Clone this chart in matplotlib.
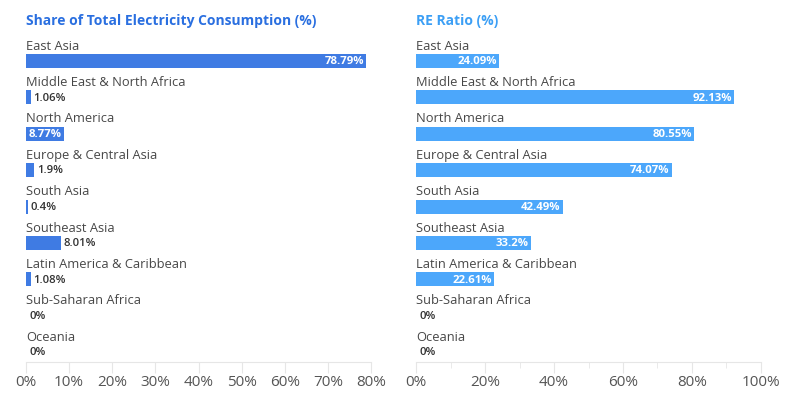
import numpy as np
import matplotlib
matplotlib.use('Agg')
import matplotlib.pyplot as plt
from matplotlib.ticker import FuncFormatter, MultipleLocator

# ── data ──────────────────────────────────────────────────────────────────────
REGIONS = [
    "East Asia",
    "Middle East & North Africa",
    "North America",
    "Europe & Central Asia",
    "South Asia",
    "Southeast Asia",
    "Latin America & Caribbean",
    "Sub-Saharan Africa",
    "Oceania",
]
SHARE = [78.79, 1.06, 8.77, 1.9, 0.4, 8.01, 1.08, 0, 0]
SHARE_LABELS = ["78.79%", "1.06%", "8.77%", "1.9%", "0.4%", "8.01%", "1.08%", "0%", "0%"]
RE_RATIO = [24.09, 92.13, 80.55, 74.07, 42.49, 33.2, 22.61, 0, 0]
RE_LABELS = ["24.09%", "92.13%", "80.55%", "74.07%", "42.49%", "33.2%", "22.61%", "0%", "0%"]

FONT = "Open Sans"
plt.rcParams['font.family'] = [FONT, 'DejaVu Sans']

W, H = 794, 398
fig = plt.figure(figsize=(W / 100, H / 100), dpi=100)

# pixel layout
ROW = 36.4          # row spacing in px
BAR_TOP_C = 61      # centre of the first bar
LABEL_OFF = 15      # category label sits this many px above the bar centre
AX_TOP, AX_BOT = 38, 362


def panel(x0, x1, values, labels, xmax, color, title, title_color, minor):
    ax = fig.add_axes([x0 / W, 1 - AX_BOT / H, (x1 - x0) / W, (AX_BOT - AX_TOP) / H])
    n = len(values)
    y = np.arange(n)
    ax.barh(y, values, height=14 / ROW, color=color, linewidth=0)
    ax.set_xlim(0, xmax)
    ax.set_ylim(n - 1 + (AX_BOT - (BAR_TOP_C + ROW * (n - 1))) / ROW,
                -(BAR_TOP_C - AX_TOP) / ROW)

    px_per_unit = (x1 - x0) / xmax
    for i, (v, lab) in enumerate(zip(values, labels)):
        ax.text(0, i - LABEL_OFF / ROW, REGIONS[i], ha='left', va='center',
                fontsize=9.3, color='#474747')
        if v * px_per_unit > 36:
            ax.text(v - 2 / px_per_unit, i + 0.02, lab, ha='right', va='center',
                    fontsize=8.2, fontweight='bold', color='white')
        else:
            ax.text(v + 3 / px_per_unit, i + 0.02, lab, ha='left', va='center',
                    fontsize=8.2, fontweight='semibold', color='#333333')

    for s in ['top', 'right', 'left']:
        ax.spines[s].set_visible(False)
    ax.spines['bottom'].set_color('#e6e6e6')
    ax.set_yticks([])
    ax.xaxis.set_major_locator(MultipleLocator(10 if not minor else 20))
    if minor:
        ax.xaxis.set_minor_locator(MultipleLocator(10))
        ax.tick_params(axis='x', which='minor', length=4, color='#e6e6e6')
    ax.xaxis.set_major_formatter(FuncFormatter(lambda v, p: f"{v:.0f}%"))
    ax.tick_params(axis='x', which='major', length=8, color='#e6e6e6',
                   labelsize=11, labelcolor='#555555', pad=1)
    fig.text(x0 / W, 1 - 21 / H, title, ha='left', va='center', fontsize=10,
             fontweight='bold', color=title_color)
    return ax


panel(26, 371, SHARE, SHARE_LABELS, 80, '#3f7be3',
      "Share of Total Electricity Consumption (%)", '#2a6fe0', minor=False)
panel(416, 761, RE_RATIO, RE_LABELS, 100, '#4ca7fb',
      "RE Ratio (%)", '#3c9ff5', minor=True)

fig.savefig("out.png", dpi=100)
